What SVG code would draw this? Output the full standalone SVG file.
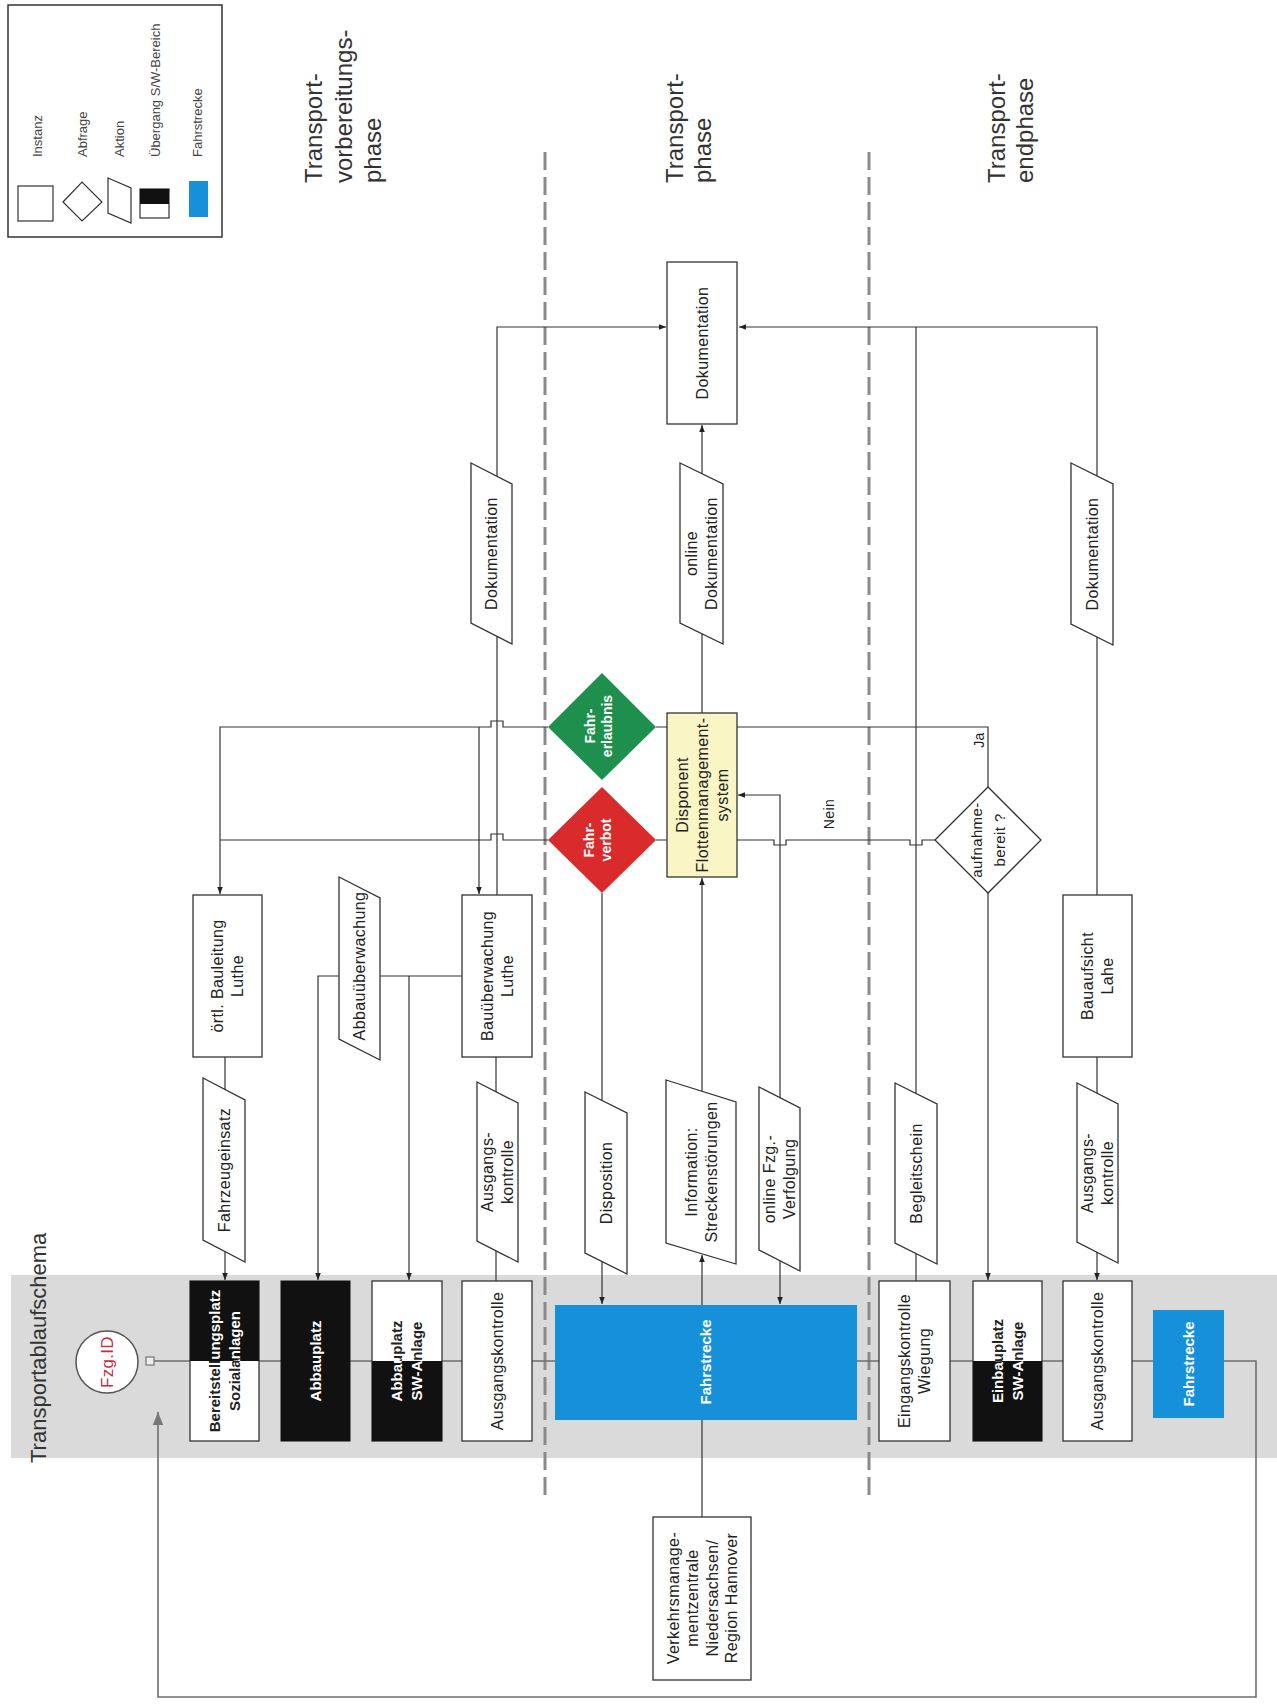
<svg xmlns="http://www.w3.org/2000/svg" width="1277" height="1706" viewBox="0 0 1277 1706">
<style>
.ln{stroke:#333;stroke-width:1.2;fill:none}
.box{fill:#fff;stroke:#333;stroke-width:1.3}
.t{font-family:"Liberation Sans",Arial,sans-serif;font-size:16px;fill:#222;letter-spacing:0.4px;text-anchor:middle}
.tb{font-weight:bold;font-size:15px;letter-spacing:0}
.td{font-weight:bold;font-size:14px;letter-spacing:0}
.w{fill:#fff}
.lg{font-family:"Liberation Sans",Arial,sans-serif;font-size:13px;fill:#444}
.ph{font-family:"Liberation Sans",Arial,sans-serif;font-size:24px;fill:#333}
.dash{stroke:#8a8a8a;stroke-width:3;stroke-dasharray:18 7;fill:none}
</style>
<defs>
<marker id="ar" viewBox="0 0 10 10" refX="10" refY="5" markerWidth="7" markerHeight="7" orient="auto-start-reverse" markerUnits="userSpaceOnUse"><path d="M0,1 L10,5 L0,9 z" fill="#222"/></marker>
<marker id="arG" viewBox="0 0 10 10" refX="10" refY="5" markerWidth="13" markerHeight="13" orient="auto" markerUnits="userSpaceOnUse"><path d="M0,1 L10,5 L0,9 z" fill="#777"/></marker>
<clipPath id="cTop"><rect x="0" y="1281" width="1277" height="80"/></clipPath>
<clipPath id="cBot"><rect x="0" y="1361" width="1277" height="80"/></clipPath>
</defs>
<rect width="1277" height="1706" fill="#fff"/>

<!-- band -->
<rect x="11" y="1275" width="1266" height="183" fill="#dadada"/>

<!-- title -->
<text class="ph" style="font-size:22px" transform="translate(46,1463) rotate(-90)">Transportablaufschema</text>

<!-- legend -->
<g id="legend">
<rect x="8" y="5" width="214" height="232" fill="#fff" stroke="#333" stroke-width="1.5"/>
<rect x="18" y="186" width="35" height="35" fill="#fff" stroke="#333" stroke-width="1.2"/>
<polygon points="63,202 82,182 102,202 82,221" fill="#fff" stroke="#333" stroke-width="1.2"/>
<polygon points="108,178 131,188 131,223 108,213" fill="#fff" stroke="#333" stroke-width="1.2"/>
<rect x="140" y="189" width="29" height="29" fill="#fff" stroke="#333" stroke-width="1.2"/>
<rect x="140" y="189" width="29" height="15" fill="#111"/>
<rect x="189" y="181" width="19" height="36" fill="#1691d9"/>
<text class="lg" transform="translate(41.5,157) rotate(-90)">Instanz</text>
<text class="lg" transform="translate(86.5,157) rotate(-90)">Abfrage</text>
<text class="lg" transform="translate(123.5,157) rotate(-90)">Aktion</text>
<text class="lg" transform="translate(159.5,157) rotate(-90)">Übergang S/W-Bereich</text>
<text class="lg" transform="translate(201.5,157) rotate(-90)">Fahrstrecke</text>
</g>

<!-- phase labels -->
<g id="phases">
<text class="ph" transform="translate(0,183) rotate(-90)"><tspan x="0" y="322">Transport-</tspan><tspan x="0" y="352">vorbereitungs-</tspan><tspan x="0" y="381">phase</tspan></text>
<text class="ph" transform="translate(0,183) rotate(-90)"><tspan x="0" y="683">Transport-</tspan><tspan x="0" y="711">phase</tspan></text>
<text class="ph" transform="translate(0,183) rotate(-90)"><tspan x="0" y="1005">Transport-</tspan><tspan x="0" y="1033">endphase</tspan></text>
</g>

<!-- phase separators -->
<g id="separators">
<line class="dash" x1="545" y1="152" x2="545" y2="1501"/>
<line class="dash" x1="869" y1="152" x2="869" y2="1501"/>
</g>

<!-- connectors -->
<g id="connectors">
<path d="M154,1361 H1256 V1697 H158 V1412" fill="none" stroke="#6e6e6e" stroke-width="1.6" marker-end="url(#arG)"/>
<path class="ln" d="M225,1057 V1280" marker-end="url(#ar)"/>
<path class="ln" d="M548,727 H503 v-6 h-12 v6 H220 V894" marker-end="url(#ar)"/>
<path class="ln" d="M548,840 H503 v-6 h-12 v6 H220"/>
<path class="ln" d="M479,727 V894" marker-end="url(#ar)"/>
<path class="ln" d="M497,895 V327 H666" marker-end="url(#ar)"/>
<path class="ln" d="M496,1057 V1281"/>
<path class="ln" d="M462,976 H318 V1280" marker-end="url(#ar)"/>
<path class="ln" d="M409,976 V1280" marker-end="url(#ar)"/>
<path class="ln" d="M602,893 V1304" marker-end="url(#ar)"/>
<path class="ln" d="M702,1305 V1255" marker-end="url(#ar)"/>
<path class="ln" d="M702,1091 V878" marker-end="url(#ar)"/>
<path class="ln" d="M702,1420 V1517"/>
<path class="ln" d="M738,795 H780 V1304" marker-start="url(#ar)" marker-end="url(#ar)"/>
<path class="ln" d="M702,713 V425" marker-end="url(#ar)"/>
<path class="ln" d="M656,727 H667 M656,840 H667"/>
<path class="ln" d="M737,727 H988 V787"/>
<path class="ln" d="M935,840 H922 v5 h-12 v-5 H786 v5 h-12 v-5 H737"/>
<path class="ln" d="M988,893 V1280" marker-end="url(#ar)"/>
<path class="ln" d="M916,1281 V327"/>
<path class="ln" d="M1097,895 V327 H739" marker-end="url(#ar)"/>
<path class="ln" d="M1097,1057 V1280" marker-end="url(#ar)"/>
<text class="t" style="font-size:14px" transform="translate(979,740) rotate(-90)" y="5">Ja</text>
<text class="t" style="font-size:14px" transform="translate(829,814) rotate(-90)" y="5">Nein</text>
</g>

<!-- start -->
<g id="n-fzg">
<circle cx="107" cy="1362" r="31" fill="#fff" stroke="#555" stroke-width="1.5"/>
<text class="t" style="font-size:17px;fill:#c0304a;letter-spacing:0.3px" transform="translate(107,1362) rotate(-90)" y="6">Fzg.ID</text>
<rect x="146" y="1357" width="8" height="8" fill="#eee" stroke="#777" stroke-width="1.2"/>
</g>

<!-- band nodes -->
<g id="n-bereitstellung">
<rect x="190" y="1281" width="69" height="160" class="box"/>
<rect x="190" y="1281" width="69" height="80" fill="#111"/>
<g clip-path="url(#cTop)"><text class="t tb w" transform="translate(224.5,1361) rotate(-90)"><tspan x="0" y="-4.6">Bereitstellungsplatz</tspan><tspan x="0" y="15.4">Sozialanlagen</tspan></text></g>
<g clip-path="url(#cBot)"><text class="t tb" transform="translate(224.5,1361) rotate(-90)"><tspan x="0" y="-4.6">Bereitstellungsplatz</tspan><tspan x="0" y="15.4">Sozialanlagen</tspan></text></g>
</g>
<g id="n-abbauplatz">
<rect x="281" y="1281" width="69" height="160" fill="#111" stroke="#111"/>
<text class="t tb w" transform="translate(315.5,1361) rotate(-90)" y="5.4">Abbauplatz</text>
</g>
<g id="n-abbauplatz-sw">
<rect x="372" y="1281" width="70" height="160" class="box"/>
<rect x="372" y="1361" width="70" height="80" fill="#111"/>
<g clip-path="url(#cTop)"><text class="t tb" transform="translate(407,1361) rotate(-90)"><tspan x="0" y="-4.6">Abbauplatz</tspan><tspan x="0" y="15.4">SW-Anlage</tspan></text></g>
<g clip-path="url(#cBot)"><text class="t tb w" transform="translate(407,1361) rotate(-90)"><tspan x="0" y="-4.6">Abbauplatz</tspan><tspan x="0" y="15.4">SW-Anlage</tspan></text></g>
</g>
<g id="n-ausgang1">
<rect x="462" y="1281" width="70" height="160" class="box"/>
<text class="t" transform="translate(497,1361) rotate(-90)" y="5.8">Ausgangskontrolle</text>
</g>
<g id="n-fahrstrecke1">
<rect x="555" y="1305" width="302" height="115" fill="#1691d9"/>
<text class="t tb w" transform="translate(706,1362) rotate(-90)" y="5.4">Fahrstrecke</text>
</g>
<g id="n-eingang">
<rect x="879" y="1281" width="71" height="160" class="box"/>
<text class="t" transform="translate(914.5,1361) rotate(-90)"><tspan x="0" y="-4.2">Eingangskontrolle</tspan><tspan x="0" y="15.8">Wiegung</tspan></text>
</g>
<g id="n-einbauplatz">
<rect x="973" y="1281" width="69" height="160" class="box"/>
<rect x="973" y="1361" width="69" height="80" fill="#111"/>
<g clip-path="url(#cTop)"><text class="t tb" transform="translate(1007.5,1361) rotate(-90)"><tspan x="0" y="-4.6">Einbauplatz</tspan><tspan x="0" y="15.4">SW-Anlage</tspan></text></g>
<g clip-path="url(#cBot)"><text class="t tb w" transform="translate(1007.5,1361) rotate(-90)"><tspan x="0" y="-4.6">Einbauplatz</tspan><tspan x="0" y="15.4">SW-Anlage</tspan></text></g>
</g>
<g id="n-ausgang2">
<rect x="1063" y="1281" width="69" height="160" class="box"/>
<text class="t" transform="translate(1097.5,1361) rotate(-90)" y="5.8">Ausgangskontrolle</text>
</g>
<g id="n-fahrstrecke2">
<rect x="1153" y="1310" width="71" height="108" fill="#1691d9"/>
<text class="t tb w" transform="translate(1188.5,1364) rotate(-90)" y="5.4">Fahrstrecke</text>
</g>

<!-- instances -->
<g id="n-oertl">
<rect x="193" y="895" width="69" height="162" class="box"/>
<text class="t" transform="translate(227.5,976) rotate(-90)"><tspan x="0" y="-4.2">örtl. Bauleitung</tspan><tspan x="0" y="15.8">Luthe</tspan></text>
</g>
<g id="n-bauueberwachung">
<rect x="462" y="895" width="70" height="162" class="box"/>
<text class="t" transform="translate(497,976) rotate(-90)"><tspan x="0" y="-4.2">Bauüberwachung</tspan><tspan x="0" y="15.8">Luthe</tspan></text>
</g>
<g id="n-bauaufsicht">
<rect x="1063" y="895" width="69" height="162" class="box"/>
<text class="t" transform="translate(1097.5,976) rotate(-90)"><tspan x="0" y="-4.2">Bauaufsicht</tspan><tspan x="0" y="15.8">Lahe</tspan></text>
</g>
<g id="n-disponent">
<rect x="667" y="713" width="70" height="164" fill="#f9f5c4" stroke="#333" stroke-width="1.3"/>
<text class="t" transform="translate(702,795) rotate(-90)"><tspan x="0" y="-14.2">Disponent</tspan><tspan x="0" y="5.8">Flottenmanagement-</tspan><tspan x="0" y="25.8">system</tspan></text>
</g>
<g id="n-dokumentation">
<rect x="667" y="262" width="70" height="162" class="box"/>
<text class="t" transform="translate(702,343) rotate(-90)" y="5.8">Dokumentation</text>
</g>
<g id="n-verkehr">
<rect x="653" y="1517" width="98" height="163" class="box"/>
<text class="t" transform="translate(702,1598) rotate(-90)"><tspan x="0" y="-23.5">Verkehrsmanage-</tspan><tspan x="0" y="-4">mentzentrale</tspan><tspan x="0" y="15.5">Niedersachsen/</tspan><tspan x="0" y="35">Region Hannover</tspan></text>
</g>

<!-- decisions -->
<g id="n-fahrerlaubnis">
<polygon points="548,727 602,673 656,727 602,780" fill="#1f8f4e"/>
<text class="t td w" transform="translate(598,726) rotate(-90)"><tspan x="0" y="-3.5">Fahr-</tspan><tspan x="0" y="13.5">erlaubnis</tspan></text>
</g>
<g id="n-fahrverbot">
<polygon points="548,840 602,787 656,840 602,893" fill="#d92a2c"/>
<text class="t td w" transform="translate(597,840) rotate(-90)"><tspan x="0" y="-3.5">Fahr-</tspan><tspan x="0" y="13.5">verbot</tspan></text>
</g>
<g id="n-aufnahme">
<polygon points="935,840 988,787 1041,840 988,893" fill="#fff" stroke="#333" stroke-width="1.3"/>
<text class="t" style="font-size:15px" transform="translate(988,840) rotate(-90)"><tspan x="0" y="-6.5">aufnahme-</tspan><tspan x="0" y="17">bereit ?</tspan></text>
</g>

<!-- actions -->
<g id="a-fahrzeugeinsatz">
<polygon points="203,1078 245,1100 245,1262 203,1240" class="box"/>
<text class="t" transform="translate(224,1170) rotate(-90)" y="5.8">Fahrzeugeinsatz</text>
</g>
<g id="a-abbauueberwachung">
<polygon points="339,877 380,898 380,1060 339,1039" class="box"/>
<text class="t" transform="translate(359.5,966) rotate(-90)" y="5.8">Abbauüberwachung</text>
</g>
<g id="a-ausgang1">
<polygon points="477,1082 518,1103 518,1262 477,1241" class="box"/>
<text class="t" transform="translate(497.5,1172) rotate(-90)"><tspan x="0" y="-4.2">Ausgangs-</tspan><tspan x="0" y="15.8">kontrolle</tspan></text>
</g>
<g id="a-doku1">
<polygon points="471,463 512,484 512,644 471,623" class="box"/>
<text class="t" transform="translate(491.5,553.5) rotate(-90)" y="5.8">Dokumentation</text>
</g>
<g id="a-onlinedoku">
<polygon points="680,463 723,484 723,644 680,623" class="box"/>
<text class="t" transform="translate(701.5,553.5) rotate(-90)"><tspan x="0" y="-4.2">online</tspan><tspan x="0" y="15.8">Dokumentation</tspan></text>
</g>
<g id="a-doku2">
<polygon points="1071,463 1113,484 1113,645 1071,624" class="box"/>
<text class="t" transform="translate(1092,554) rotate(-90)" y="5.8">Dokumentation</text>
</g>
<g id="a-disposition">
<polygon points="585,1092 627,1113 627,1274 585,1253" class="box"/>
<text class="t" transform="translate(606,1183) rotate(-90)" y="5.8">Disposition</text>
</g>
<g id="a-information">
<polygon points="666,1080 736,1102 736,1264 666,1243" class="box"/>
<text class="t" transform="translate(701,1172) rotate(-90)"><tspan x="0" y="-4.2">Information:</tspan><tspan x="0" y="15.8">Streckenstörungen</tspan></text>
</g>
<g id="a-fzgverfolgung">
<polygon points="759,1087 800,1108 800,1271 759,1250" class="box"/>
<text class="t" transform="translate(779.5,1179) rotate(-90)"><tspan x="0" y="-4.2">online Fzg.-</tspan><tspan x="0" y="15.8">Verfolgung</tspan></text>
</g>
<g id="a-begleitschein">
<polygon points="895,1083 937,1104 937,1264 895,1243" class="box"/>
<text class="t" transform="translate(916,1173.5) rotate(-90)" y="5.8">Begleitschein</text>
</g>
<g id="a-ausgang2">
<polygon points="1077,1083 1118,1104 1118,1263 1077,1242" class="box"/>
<text class="t" transform="translate(1097.5,1173) rotate(-90)"><tspan x="0" y="-4.2">Ausgangs-</tspan><tspan x="0" y="15.8">kontrolle</tspan></text>
</g>
</svg>
